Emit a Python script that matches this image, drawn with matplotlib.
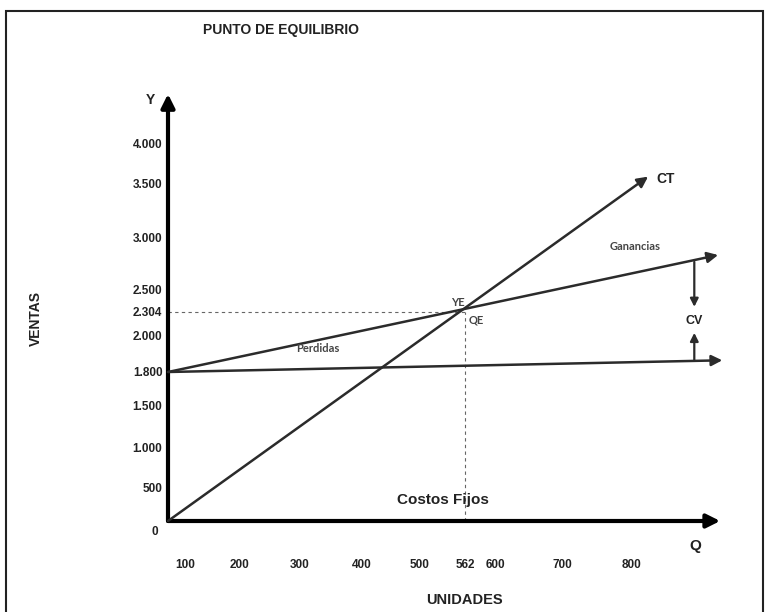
import numpy as np
import matplotlib
matplotlib.use("Agg")
import matplotlib.pyplot as plt
from matplotlib.patches import Rectangle

W, H = 769, 612

# ---------------- data ----------------
q_ticks = [100, 200, 300, 400, 500, 562, 600, 700, 800]
q_labels = ["100", "200", "300", "400", "500", "562", "600", "700", "800"]
y_ticks = [500, 1000, 1500, 1800, 2000, 2304, 2500, 3000, 3500, 4000]
y_labels = ["500", "1.000", "1.500", "1.800", "2.000", "2.304", "2.500",
            "3.000", "3.500", "4.000"]

costo_fijo = 1800          # fixed cost level
q_eq, y_eq = 562, 2304     # break-even point
ct_q = [0, 823]            # CT line (from origin)
ct_y = [0, 3590]
ing_q = [0, 923]           # line starting at fixed cost (Ganancias)
ing_y = [1800, 2830]
cf_q = [0, 929]            # fixed cost line
cf_y = [1800, 1865]
cv_q = 889                 # CV arrows
cv_top, cv_mid_hi, cv_mid_lo, cv_bottom = 2765, 2350, 2040, 1865

# irregular (hand drawn) axis spacing: value -> pixel
x_anchor_val = [0, 100, 200, 300, 400, 500, 562, 600, 700, 800, 950]
x_anchor_pix = [168, 185, 240, 300, 362, 420, 465, 495, 562, 632, 737]
y_anchor_val = [0, 500, 1000, 1500, 1800, 2000, 2304, 2500, 3000, 3500, 4000, 4600]
y_anchor_pix = [521, 488, 448, 406, 372, 336, 312, 290, 237, 184, 143, 94]

xv = np.array(x_anchor_val, float); xp = np.array(x_anchor_pix, float)
yv = np.array(y_anchor_val, float); yp = H - np.array(y_anchor_pix, float)

def xf(v): return np.interp(v, xv, xp)
def xi(p): return np.interp(p, xp, xv)
def yf(v): return np.interp(v, yv, yp)
def yi(p): return np.interp(p, yp, yv)

fig = plt.figure(figsize=(W / 100, H / 100), dpi=100)
ax = fig.add_axes([xp[0] / W, yp[0] / H, (xp[-1] - xp[0]) / W, (yp[-1] - yp[0]) / H])
ax.set_xscale("function", functions=(xf, xi))
ax.set_yscale("function", functions=(yf, yi))
ax.set_xlim(xv[0], xv[-1])
ax.set_ylim(yv[0], yv[-1])
ax.patch.set_visible(False)
for s in ax.spines.values():
    s.set_visible(False)

bold = dict(family="Liberation Sans", weight="bold")
tick_fs = 8.5

ax.set_xticks(q_ticks)
ax.set_xticklabels(q_labels, fontsize=tick_fs, **bold, color="#222")
ax.set_yticks(y_ticks)
ax.set_yticklabels(y_labels, fontsize=tick_fs, **bold, color="#222")
ax.tick_params(axis="x", length=0, pad=27)
ax.tick_params(axis="y", length=0, pad=4)
ax.minorticks_off()
ax.annotate("0", xy=(0, 0), xytext=(-7, -8), textcoords="offset points",
            ha="right", va="center", fontsize=tick_fs, color="#222", **bold)

line_col = "#2b2b2b"

def arrow(x0, y0, x1, y1, lw=1.8, ms=16, col=line_col):
    ax.annotate("", xy=(x1, y1), xytext=(x0, y0),
                arrowprops=dict(arrowstyle="-|>", lw=lw, color=col,
                                mutation_scale=ms, shrinkA=0, shrinkB=0),
                annotation_clip=False)

# axes
arrow(0, 0, 926, 0, lw=3, ms=20, col="black")
arrow(0, 0, 0, 4600, lw=3, ms=20, col="black")

# dashed guides
ax.plot([0, q_eq], [y_eq, y_eq], ls=(0, (3, 3)), lw=0.8, color="#666")
ax.plot([q_eq, q_eq], [0, y_eq], ls=(0, (3, 3)), lw=0.8, color="#666")

# lines
arrow(ct_q[0], ct_y[0], ct_q[1], ct_y[1])
arrow(ing_q[0], ing_y[0], ing_q[1], ing_y[1])
arrow(cf_q[0], cf_y[0], cf_q[1], cf_y[1])

# CV arrows
arrow(cv_q, cv_top, cv_q, cv_mid_hi, lw=1.6, ms=12)
arrow(cv_q, cv_bottom, cv_q, cv_mid_lo, lw=1.6, ms=12)

# labels
small = dict(fontsize=8, color="#444", family="Lato", weight="bold")
ax.annotate("CT", xy=(ct_q[1], ct_y[1]), xytext=(6, -2), textcoords="offset points",
            ha="left", va="center", fontsize=10, color="#222", **bold)
ax.annotate("CV", xy=(cv_q, (cv_mid_hi + cv_mid_lo) / 2), ha="center", va="center",
            fontsize=9, color="#222", **bold)
ax.annotate("Ganancias", xy=(ing_q[1], ing_y[1]), xytext=(-60, 6), textcoords="offset points",
            ha="center", va="center", **small)
ax.annotate("Perdidas", xy=(300, 2000), xytext=(13, -9), textcoords="offset points",
            ha="center", va="center", **small)
ax.annotate("YE", xy=(q_eq, y_eq), xytext=(-5, 7), textcoords="offset points",
            ha="center", va="center", **small)
ax.annotate("QE", xy=(q_eq, y_eq), xytext=(8, -6), textcoords="offset points",
            ha="center", va="center", **small)

fig.text(443 / W, 1 - 500 / H, "Costos Fijos", ha="center", va="center",
         fontsize=11, color="#222", **bold)
fig.text(695 / W, 1 - 546 / H, "Q", ha="center", va="center", fontsize=11, color="#222", **bold)
fig.text(150 / W, 1 - 100 / H, "Y", ha="center", va="center", fontsize=10, color="#222", **bold)
fig.text(464 / W, 1 - 600 / H, "UNIDADES", ha="center", va="center",
         fontsize=10.5, color="#222", **bold)
fig.text(36 / W, 1 - 318 / H, "VENTAS", ha="center", va="center", rotation=90,
         fontsize=10, color="#222", **bold)
fig.text(281 / W, 1 - 30 / H, "PUNTO DE EQUILIBRIO", ha="center", va="center",
         fontsize=10, color="#222", **bold)

fig.patches.append(Rectangle((6 / W, -0.02), (763 - 6) / W, 1.02 - 11 / H,
                             transform=fig.transFigure, fill=False, lw=1.5, ec="#222"))

fig.savefig("out.png", dpi=100, facecolor="white")
